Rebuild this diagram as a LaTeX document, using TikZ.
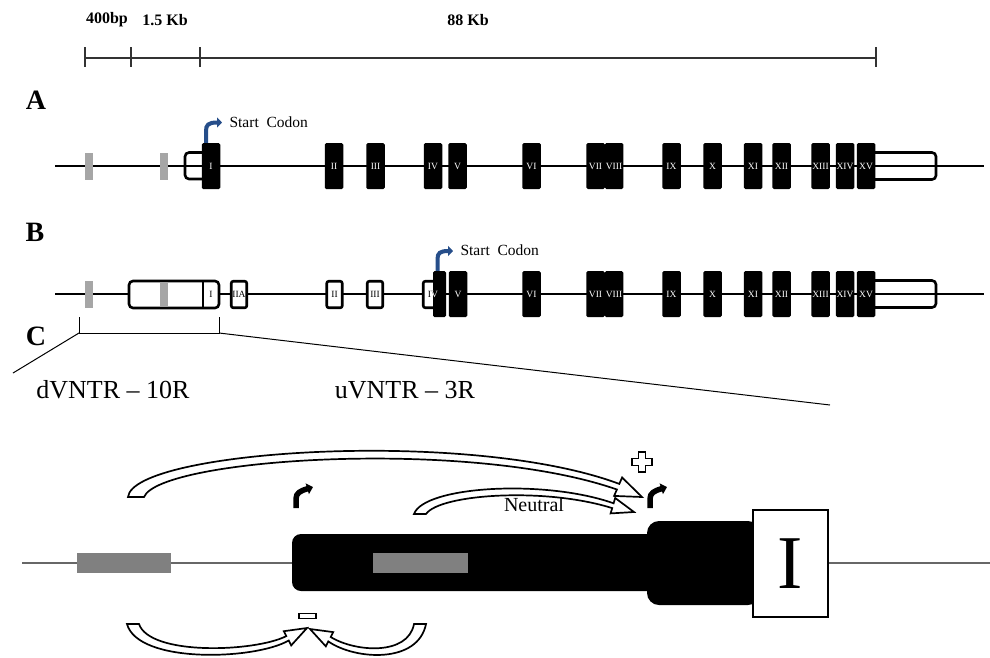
\documentclass[tikz,border=0pt]{standalone}
\usepackage{fontspec}
\setmainfont{Liberation Serif}
\usetikzlibrary{arrows.meta}
\definecolor{codonblue}{RGB}{38,78,138}
\definecolor{repgray}{RGB}{166,166,166}
\definecolor{vntrgray}{RGB}{128,128,128}
\newcommand{\numfont}{\fontsize{9.5}{10}\selectfont}
\tikzset{
	exon/.style={fill=black, rounded corners=1.5pt, minimum width=18.5pt, minimum height=46pt, inner sep=0pt, text=white, font=\numfont},
	openexon/.style={draw, fill=white, line width=2.6pt, rounded corners=2pt, minimum width=15.5pt, minimum height=26.5pt, inner sep=0pt, font=\numfont},
	vntr/.style={fill=repgray, minimum width=8pt, minimum height=27pt, inner sep=0pt},
	utr/.style={draw, line width=2.6pt, rounded corners=4pt},
	codon/.style={draw=codonblue, line width=4pt, -{Triangle[length=5pt, width=10pt]}},
	hollow/.style={draw, fill=white, line width=1.7pt, line join=miter},
	promoter/.style={line width=5.5pt, -{Triangle[length=6pt, width=11pt]}},
	panel/.style={font=\bfseries\fontsize{28}{30}\selectfont},
	scalelabel/.style={font=\bfseries\fontsize{16}{18}\selectfont}
}

\begin{document}
\begin{tikzpicture}[x=1pt, y=-1pt]
	\useasboundingbox (0,0) rectangle (990,657);

	% scale bar
	\draw[line width=1.5pt, black!80] (85,58) -- (876,58);
	\foreach \x in {85, 131, 200, 876}
		\draw[line width=1.5pt, black!80] (\x,47) -- (\x,67);
	\node[scalelabel] (l400) at (107,20) {400bp};
	\node[scalelabel] (l15) at (165,20) {1.5 Kb};
	\node[scalelabel] (l88) at (468,20) {88 Kb};

	\node[panel] (pA) at (36,100) {A};
	\node[panel] (pB) at (35,232) {B};
	\node[panel] (pC) at (36,336) {C};

	% backbones and UTRs
	\draw[line width=1.3pt] (55,166) -- (984,166);
	\draw[line width=1.3pt] (55,294) -- (984,294);
	\draw[utr] (185,152.5) rectangle (214,179);
	\draw[utr] (860,152.5) rectangle (936,179.5);
	\draw[utr] (860,280.5) rectangle (936,307.5);
	\draw[utr, fill=white] (129,281) rectangle (219,308);
	\fill[repgray] (160,282.3) rectangle (168,306.7);
	\draw[line width=2.6pt] (203,281) -- (203,308);

	% isoform A
	\node[vntr] (aR1) at (89,166.5) {};
	\node[vntr] (aR2) at (164,166.5) {};
	\node[exon] (aI) at (211,166) {I};
	\foreach \n/\x in {II/334, III/375.5, IV/433, V/457.5}
		\node[exon] (a\n) at (\x,166) {\n};
	\foreach \n/\x in {VI/531.5, VII/595.5, VIII/614, IX/671.5, X/712.5, XI/753, XII/781.5, XIII/820.5, XIV/845, XV/866}
	{
		\node[exon] (a\n) at (\x,166) {\n};
		\node[exon] (b\n) at (\x,294) {\n};
	}
	\draw[codon] ([xshift=-5pt]aI.north) -- (206,131) .. controls (206,125) and (208,122.5) .. (222,122.5);
	\node[anchor=west, font=\fontsize{15.5}{17}\selectfont] (aStart) at (226,122) {Start\ \ Codon};

	% isoform B
	\node[vntr] (bR1) at (89,294.5) {};
	\node[font=\numfont] (bI) at (211,294.5) {I};
	\node[openexon] (bIIA) at (239,294.5) {IIA};
	\node[openexon] (bII) at (334.5,294.5) {II};
	\node[openexon] (bIII) at (375,294.5) {III};
	\node[openexon] (bIV) at (431,294.5) {};
	\node[exon, minimum width=13pt] (bIVx) at (439.5,294) {};
	\node[exon] (bV) at (458,294) {V};
	\node[font=\numfont] (bIVl) at (433,294.5) {IV};
	\begin{scope}
		\clip (bIVx.south west) rectangle (bIVx.north east);
		\node[font=\numfont, text=white] (bIVw) at (433,294.5) {IV};
	\end{scope}
	\draw[codon] ([xshift=-2pt]bIVx.north) -- (437.5,259) .. controls (437.5,253) and (440,251) .. (453,251);
	\node[anchor=west, font=\fontsize{15.5}{17}\selectfont] (bStart) at (457,250) {Start\ \ Codon};

	% zoom bracket
	\coordinate (brL) at (79,333);
	\coordinate (brR) at (219,333);
	\draw[line width=1pt] (79,317) -- (brL) -- (brR) -- (219,317);
	\draw[line width=1pt] (brL) -- (13,373);
	\draw[line width=1pt] (brR) -- (830,405);

	\node[font=\fontsize{26}{28}\selectfont] (dv) at (113,390) {dVNTR -- 10R};
	\node[font=\fontsize{26}{28}\selectfont] (uv) at (405,390) {uVNTR -- 3R};

	% panel C
	\draw[line width=1.8pt, vntrgray!80!black] (22,563) -- (990,563);
	\fill[vntrgray] (77,553) rectangle (171,573);
	\fill[rounded corners=9pt] (292,534) rectangle (665,591);
	\fill[rounded corners=12pt] (647,521) rectangle (760,605);
	\fill[vntrgray] (373,553) rectangle (468,573);
	\node[draw, fill=white, line width=1.6pt, minimum width=75.5pt, minimum height=107.5pt, inner sep=0pt, font=\fontsize{76}{80}\selectfont] (exI) at (790.5,563.5) {I};

	% enhancer and repressor arrows
	\coordinate (upTip) at (642,497);
	\coordinate (neuTip) at (634,512);
	\coordinate (dnTipL) at (307,628);
	\coordinate (dnTipR) at (310,629);
	\path[hollow] (128,497) .. controls (133,450) and (470,428) .. (619.3,483.9) -- (622.1,477.5) -- (upTip)
		-- (614.1,495.9) -- (616.9,489.5) .. controls (470,438) and (160,458) .. (144,497) -- cycle;
	\path[hollow] (414,514) .. controls (424,486) and (545,479) .. (613.6,503.3) -- (615.2,498.0) -- (neuTip)
		-- (610.6,513.4) -- (612.2,508.1) .. controls (545,487) and (440,494) .. (426,514) -- cycle;
	\node[font=\fontsize{20}{22}\selectfont] (neu) at (534,505) {Neutral};

	\path[hollow] (127,624) .. controls (138,664) and (255,660) .. (288.7,640.5) -- (291.2,645.4) -- (dnTipL)
		-- (283.8,631.2) -- (286.3,636.1) .. controls (255,652) and (150,656) .. (139,624) -- cycle;
	\path[hollow] (426,624) .. controls (418,664) and (355,660) .. (328.3,641.4) -- (325.8,646.3) -- (dnTipR)
		-- (333.2,632.1) -- (330.7,637.0) .. controls (355,652) and (408,656) .. (414,624) -- cycle;

	\node[draw, fill=white, line width=1.5pt, minimum width=17pt, minimum height=5pt, inner sep=0pt] (minus) at (307.5,616) {};
	\begin{scope}[shift={(642,462)}]
		\draw[line width=1.8pt, fill=white] (-3.5,-10) -- (3.5,-10) -- (3.5,-3.5) -- (10,-3.5) -- (10,3.5) -- (3.5,3.5)
			-- (3.5,10) -- (-3.5,10) -- (-3.5,3.5) -- (-10,3.5) -- (-10,-3.5) -- (-3.5,-3.5) -- cycle;
	\end{scope}

	% promoters
	\draw[promoter] (296,508) -- (296,499) .. controls (296,493) and (300,491) .. (313,487);
	\draw[promoter] (650,508) -- (650,499) .. controls (650,493) and (654,491) .. (667,487);
\end{tikzpicture}
\end{document}
